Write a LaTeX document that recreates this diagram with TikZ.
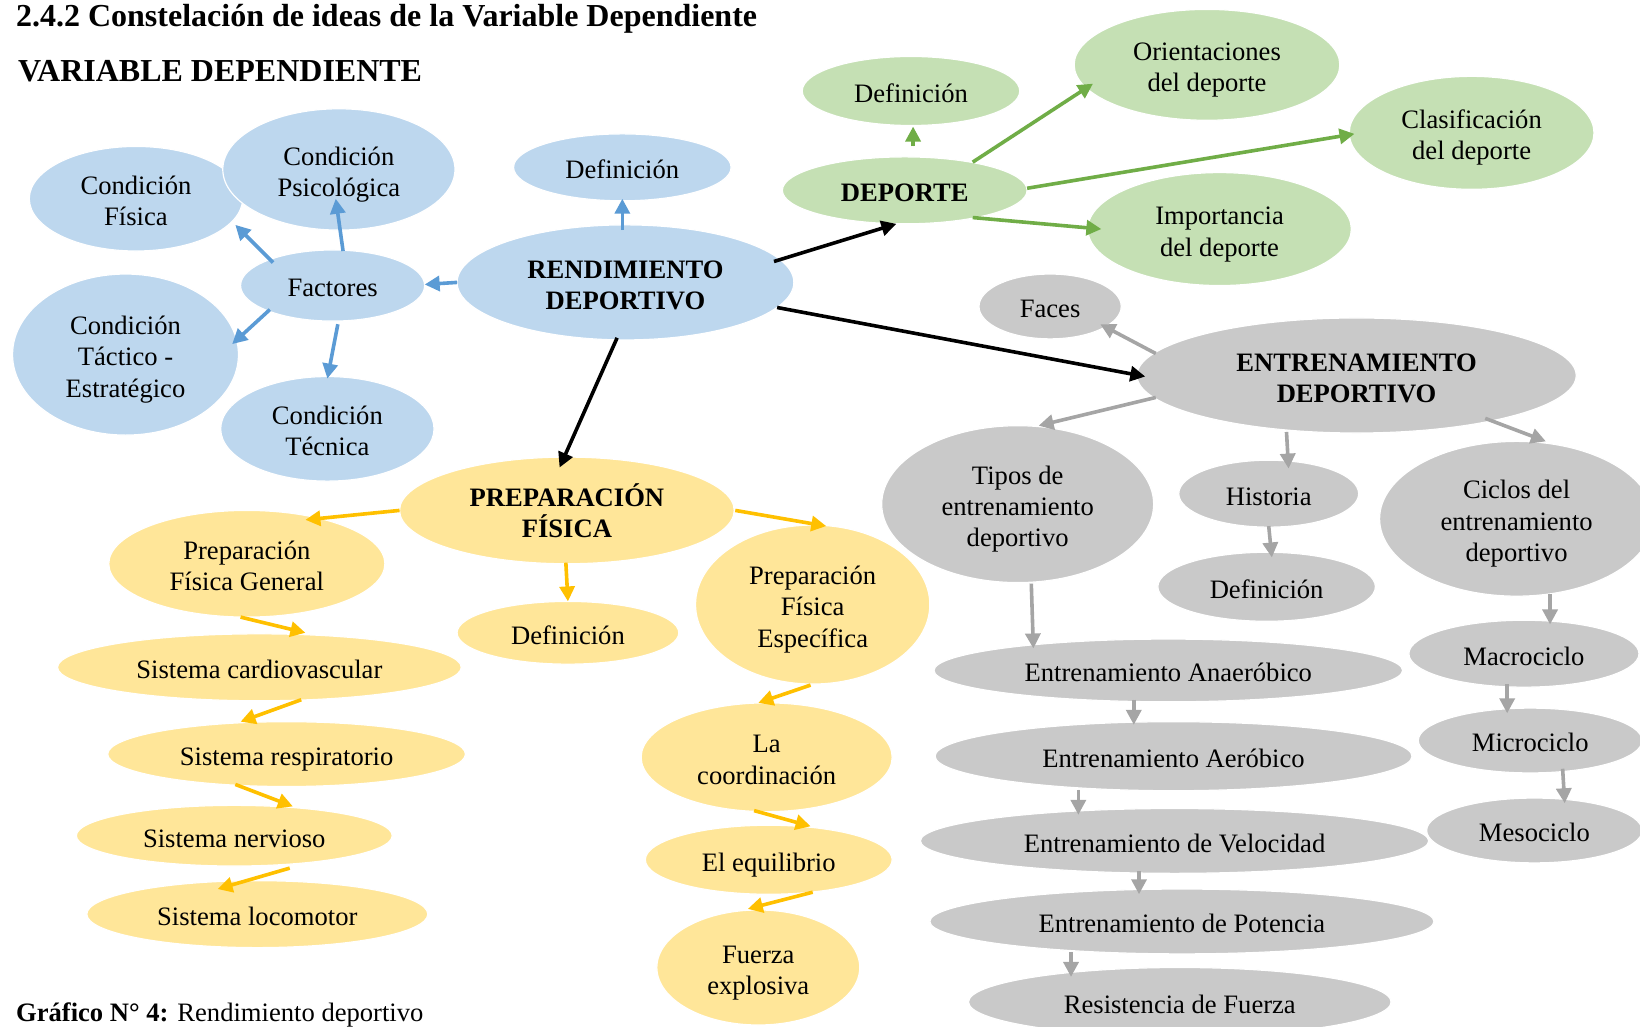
\documentclass[tikz,border=0pt]{standalone}
\usepackage{fontspec}
\setmainfont{Liberation Serif}
\usetikzlibrary{shapes.geometric,arrows.meta,calc}

% one drawing unit
\def\uu{0.52296pt}
% fixed line box for bubble texts (first line top, last line bottom)
\newcommand\openL{\rule{0pt}{14.3pt}}
\newcommand\closeL{\rule[-2.9pt]{0pt}{2.9pt}}

\definecolor{blueFill}{HTML}{BDD7EE}
\definecolor{blueLine}{HTML}{5B9BD5}
\definecolor{greenFill}{HTML}{C5E0B4}
\definecolor{greenLine}{HTML}{70AD47}
\definecolor{grayFill}{HTML}{C9C9C9}
\definecolor{grayLine}{HTML}{A5A5A5}
\definecolor{yellowFill}{HTML}{FFE699}
\definecolor{yellowLine}{HTML}{FFC000}

\tikzset{
  txt/.style={font=\fontsize{13.3pt}{15.7pt}\selectfont},
  bubble/.style={ellipse, inner sep=0pt, align=center, draw=white, line width=0.6pt, txt},
  sz/.style 2 args={minimum width=#1*\uu, minimum height=#2*\uu},
  bl/.style={bubble, fill=blueFill},
  gr/.style={bubble, fill=greenFill},
  gy/.style={bubble, fill=grayFill},
  yl/.style={bubble, fill=yellowFill},
  arr/.style={line width=1.8pt, -{Triangle[length=7.5pt,width=7.5pt]}},
  arrB/.style={arr, draw=blueLine, fill=blueLine},
  arrG/.style={arr, draw=greenLine, fill=greenLine},
  arrH/.style={arr, draw=grayLine, fill=grayLine},
  arrY/.style={arr, draw=yellowLine, fill=yellowLine},
  arrK/.style={arr, draw=black, fill=black},
  heading/.style={anchor=base west, inner sep=0pt, font=\fontsize{16pt}{19pt}\selectfont\bfseries},
}

\begin{document}
\begin{tikzpicture}[x=\uu, y=-\uu]
\useasboundingbox (0,0) rectangle (1568,981);
\clip (0,0) rectangle (1568,981);

% headings
\node[heading] (h1) at (15,25) {2.4.2 Constelación de ideas de la Variable Dependiente};
\node[heading] (h2) at (17,78) {VARIABLE DEPENDIENTE};
\node[txt, anchor=base west, inner sep=0pt] (cap) at (15,977) {\textbf{Gráfico N° 4:} Rendimiento deportivo};

% rendimiento deportivo (blue)
\node[bl, sz={204}{100}] (cf)   at (130,190) {\openL Condición\\Física\closeL};
\node[bl, sz={222}{116}] (cp)   at (324,162) {\openL Condición\\Psicológica\closeL};
\node[bl, sz={216}{154}] (ct)   at (120,339) {\openL Condición\\Táctico -\\Estratégico\closeL};
\node[bl, sz={204}{100}] (ctec) at (313,410) {\openL Condición\\Técnica\closeL};
\node[bl, sz={176}{68}]  (fac)  at (318,273) {\openL Factores\closeL};
\node[bl, sz={208}{64}]  (bdef) at (595,160) {\openL Definición\closeL};
\node[bl, sz={322}{110}] (rd)   at (598,270) {\openL\bfseries RENDIMIENTO\\\bfseries DEPORTIVO\closeL};

% deporte (green)
\node[gr, sz={208}{66}]  (gdef) at (871,87)   {\openL Definición\closeL};
\node[gr, sz={254}{106}] (ori)  at (1154,62)  {\openL Orientaciones\\del deporte\closeL};
\node[gr, sz={234}{108}] (cla)  at (1407,127) {\openL Clasificación\\del deporte\closeL};
\node[gr, sz={252}{108}] (imp)  at (1166,219) {\openL Importancia\\del deporte\closeL};
\node[gr, sz={234}{64}]  (dep)  at (865,182)  {\openL\bfseries DEPORTE\closeL};

% entrenamiento deportivo (gray)
\node[gy, sz={136}{62}]  (fas)  at (1004,293) {\openL Faces\closeL};
\node[gy, sz={420}{110}] (ent)  at (1297,359) {\openL\bfseries ENTRENAMIENTO\\\bfseries DEPORTIVO\closeL};
\node[gy, sz={260}{150}] (tip)  at (973,482)  {\openL Tipos de\\entrenamiento\\deportivo\closeL};
\node[gy, sz={172}{64}]  (his)  at (1213,472) {\openL Historia\closeL};
\node[gy, sz={208}{66}]  (edef) at (1211,561) {\openL Definición\closeL};
\node[gy, sz={262}{148}] (cic)  at (1450,496) {\openL Ciclos del\\entrenamiento\\deportivo\closeL};
\node[gy, sz={220}{64}]  (mac)  at (1457,625) {\openL Macrociclo\closeL};
\node[gy, sz={214}{62}]  (mic)  at (1463,708) {\openL Microciclo\closeL};
\node[gy, sz={206}{62}]  (mes)  at (1467,794) {\openL Mesociclo\closeL};
\node[gy, sz={448}{60}]  (ana)  at (1117,641) {\openL Entrenamiento Anaeróbico\closeL};
\node[gy, sz={456}{66}]  (aer)  at (1122,723) {\openL Entrenamiento Aeróbico\closeL};
\node[gy, sz={486}{62}]  (vel)  at (1123,804) {\openL Entrenamiento de Velocidad\closeL};
\node[gy, sz={482}{62}]  (pot)  at (1130,881) {\openL Entrenamiento de Potencia\closeL};
\node[gy, sz={404}{66}]  (res)  at (1128,958) {\openL Resistencia de Fuerza\closeL};

% preparacion fisica (yellow)
\node[yl, sz={320}{102}] (pf)   at (542,488) {\openL\bfseries PREPARACIÓN\\\bfseries FÍSICA\closeL};
\node[yl, sz={264}{102}] (pfg)  at (236,539) {\openL Preparación\\Física General\closeL};
\node[yl, sz={212}{60}]  (ydef) at (543,605) {\openL Definición\closeL};
\node[yl, sz={224}{152}] (pfe)  at (777,578) {\openL Preparación\\Física\\Específica\closeL};
\node[yl, sz={386}{64}]  (car)  at (248,638) {\openL Sistema cardiovascular\closeL};
\node[yl, sz={342}{62}]  (resp) at (274,721) {\openL Sistema respiratorio\closeL};
\node[yl, sz={302}{58}]  (ner)  at (224,799) {\openL Sistema nervioso\closeL};
\node[yl, sz={326}{64}]  (loc)  at (246,874) {\openL Sistema locomotor\closeL};
\node[yl, sz={240}{104}] (coo)  at (733,724) {\openL La\\coordinación\closeL};
\node[yl, sz={236}{66}]  (equ)  at (735,822) {\openL El equilibrio\closeL};
\node[yl, sz={194}{110}] (fue)  at (725,925) {\openL Fuerza\\explosiva\closeL};

% blue connectors
\draw[arrB] ($(rd)+(-161,0)$)  -- ($(fac)+(88,-1)$);
\draw[arrB] ($(rd)+(-3,-50)$)  -- ($(bdef)+(0,30)$);
\draw[arrB] ($(fac)+(-57,-22)$) -- ($(cf)+(95,25)$);
\draw[arrB] ($(fac)+(10,-33)$) -- ($(cp)+(-3,28)$);
\draw[arrB] ($(fac)+(-60,23)$) -- ($(ct)+(102,-10)$);
\draw[arrB] ($(fac)+(5,37)$)   -- ($(ctec)+(0,-48)$);

% black connectors
\draw[arrK] ($(rd)+(142,-20)$) -- ($(dep)+(-8,32)$);
\draw[arrK] ($(rd)+(145,24)$)  -- ($(ent)+(-202,1)$);
\draw[arrK] ($(rd)+(-8,53)$)   -- ($(pf)+(-7,-41)$);

% green connectors
\draw[arrG] ($(dep)+(8,-42)$)  -- ($(gdef)+(2,34)$);
\draw[arrG] ($(dep)+(65,-27)$) -- ($(ori)+(-109,18)$);
\draw[arrG] ($(dep)+(117,-2)$) -- ($(cla)+(-112,1)$);
\draw[arrG] ($(dep)+(65,26)$)  -- ($(imp)+(-113,0)$);

% gray connectors
\draw[arrH] ($(ent)+(-192,-21)$) -- ($(fas)+(48,17)$);
\draw[arrH] ($(ent)+(-192,21)$)  -- ($(tip)+(20,-75)$);
\draw[arrH] ($(ent)+(-67,54)$)   -- ($(his)+(19,-24)$);
\draw[arrH] ($(ent)+(123,41)$)   -- ($(cic)+(28,-74)$);
\draw[arrH] ($(his)+(0,31)$)     -- ($(edef)+(5,-28)$);
\draw[arrH] ($(cic)+(32,72)$)    -- ($(mac)+(25,-28)$);
\draw[arrH] ($(mac)+(-16,29)$)   -- ($(mic)+(-22,-26)$);
\draw[arrH] ($(mic)+(31,27)$)    -- ($(mes)+(29,-26)$);
\draw[arrH] ($(tip)+(13,76)$)    -- ($(ana)+(-129,-21)$);
\draw[arrH] ($(ana)+(-33,28)$)   -- ($(aer)+(-38,-30)$);
\draw[arrH] ($(aer)+(-91,32)$)   -- ($(vel)+(-92,-25)$);
\draw[arrH] ($(vel)+(-34,29)$)   -- ($(pot)+(-41,-26)$);
\draw[arrH] ($(pot)+(-106,29)$)  -- ($(res)+(-104,-24)$);

% yellow connectors
\draw[arrY] ($(pf)+(-160,0)$)  -- ($(pfg)+(56,-42)$);
\draw[arrY] ($(pf)+(-1,50)$)   -- ($(ydef)+(0,-30)$);
\draw[arrY] ($(pf)+(161,0)$)   -- ($(pfe)+(13,-75)$);
\draw[arrY] ($(pfg)+(-6,51)$)  -- ($(car)+(44,-33)$);
\draw[arrY] ($(car)+(40,31)$)  -- ($(resp)+(-44,-31)$);
\draw[arrY] ($(resp)+(-49,29)$) -- ($(ner)+(56,-28)$);
\draw[arrY] ($(ner)+(53,31)$)  -- ($(loc)+(-38,-24)$);
\draw[arrY] ($(pfe)+(-2,77)$)  -- ($(coo)+(-8,-52)$);
\draw[arrY] ($(coo)+(-12,51)$) -- ($(equ)+(40,-32)$);
\draw[arrY] ($(equ)+(42,31)$)  -- ($(fue)+(-10,-56)$);
\end{tikzpicture}
\end{document}
